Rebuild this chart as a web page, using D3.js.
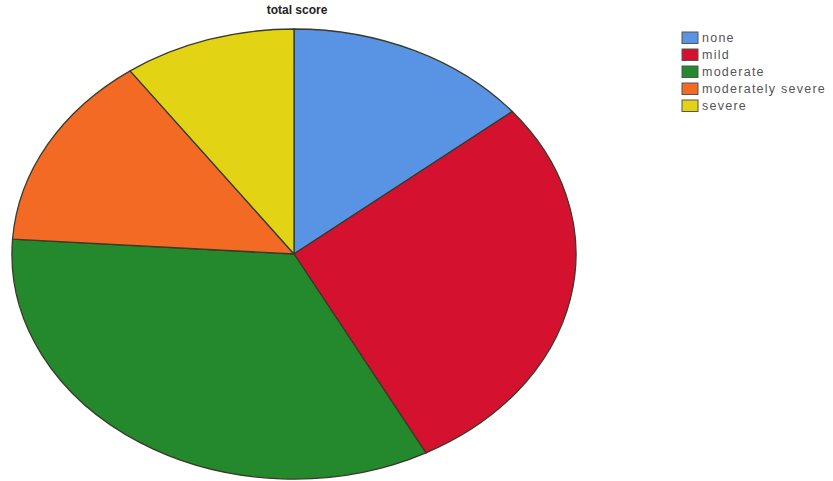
<!DOCTYPE html>
<html><head><meta charset="utf-8">
<script src="https://cdn.jsdelivr.net/npm/d3@7"></script>
<style>body{margin:0;background:#fff}svg{display:block}</style>
</head><body>
<svg id="chart" width="833" height="481"></svg>
<script>
const categories = ["none", "mild", "moderate", "moderately severe", "severe"];
const counts = [10, 20, 24, 10, 7];
const colors = ["#5894e3", "#d41230", "#24892c", "#f26a24", "#e2d414"];
const title = "total score";

const svg = d3.select("#chart");
const cx = 294, cy = 254, rx = 282, ry = 225;

const pie = d3.pie().sort(null).value(d => d)(counts);
const arc = d3.arc().innerRadius(0).outerRadius(1);

const g = svg.append("g").attr("transform", `translate(${cx},${cy}) scale(${rx},${ry})`);
g.selectAll("path").data(pie).join("path")
  .attr("d", arc)
  .attr("fill", (d, i) => colors[i])
  .attr("stroke", "#3a3a2a")
  .attr("stroke-width", 1.3)
  .attr("vector-effect", "non-scaling-stroke");

svg.append("text").attr("x", 297).attr("y", 14)
  .attr("text-anchor", "middle")
  .attr("font-family", "Liberation Sans, Arial, sans-serif")
  .attr("font-size", 12).attr("font-weight", "bold").attr("fill", "#222")
  .text(title);

const leg = svg.append("g").attr("transform", "translate(682,32)");
const rows = leg.selectAll("g").data(categories).join("g")
  .attr("transform", (d, i) => `translate(0,${i * 17})`);
rows.append("rect").attr("width", 16).attr("height", 11.5)
  .attr("fill", (d, i) => colors[i])
  .attr("stroke", "#555").attr("stroke-width", 1);
rows.append("text").attr("x", 20).attr("y", 10)
  .attr("font-family", "Liberation Sans, Arial, sans-serif")
  .attr("font-size", 12.5).attr("letter-spacing", 1.25).attr("fill", "#555")
  .text(d => d);
</script>
</body></html>
